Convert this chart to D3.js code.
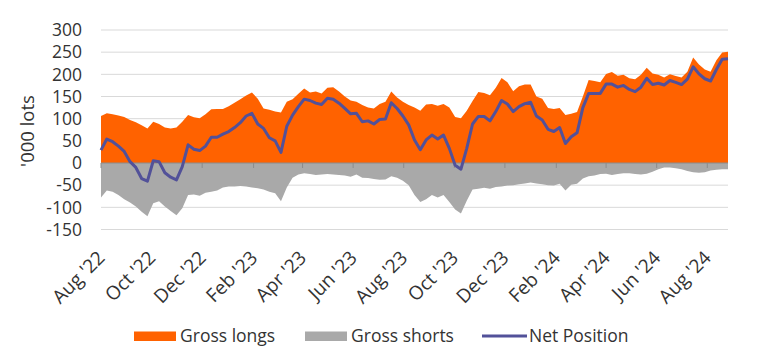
<!DOCTYPE html>
<html>
<head>
<meta charset="utf-8">
<script src="https://cdn.jsdelivr.net/npm/d3@7"></script>
<style>
  html, body { margin: 0; padding: 0; background: #fff; }
  svg { display: block; }
  text { font-family: "Open Sans", sans-serif; fill: #333; }
</style>
</head>
<body>
<svg id="chart" width="777" height="361"></svg>
<script>
// Weekly data, first report 2 Aug 2022
const startDate = new Date(2022, 7, 2);

const grossLongs = [
  106,112,110,107,104,97,92,85,78,93,88,80,78,80,93,108,103,101,110,121,
  122,122,128,136,144,152,159,145,123,120,116,114,138,144,156,168,159,161,157,170,
  171,161,150,141,138,131,125,123,133,138,161,148,138,131,125,118,132,133,129,133,
  125,104,101,118,140,160,158,153,170,192,182,162,173,177,177,150,145,124,122,124,
  108,111,115,150,187,185,182,201,205,197,199,191,189,199,215,202,199,193,200,196,
  193,206,238,222,211,206,232,249,251
];

const grossShorts = [
  -78,-62,-65,-72,-82,-89,-98,-110,-120,-91,-86,-98,-108,-118,-102,-72,-71,-74,-67,-65,
  -62,-55,-53,-53,-52,-53,-55,-57,-60,-65,-68,-86,-55,-33,-26,-23,-25,-27,-26,-25,
  -26,-27,-28,-31,-26,-33,-34,-36,-38,-37,-30,-33,-40,-50,-72,-88,-82,-72,-78,-72,
  -88,-105,-114,-85,-60,-58,-56,-58,-54,-53,-51,-50,-48,-46,-44,-46,-48,-50,-51,-47,
  -62,-49,-47,-35,-30,-28,-25,-24,-27,-25,-23,-23,-25,-26,-24,-20,-14,-10,-10,-12,
  -14,-18,-21,-22,-21,-17,-15,-14,-14
];

const netPosition = [
  29,54,48,38,26,3,-10,-35,-41,5,3,-22,-32,-38,-8,41,31,28,38,58,
  58,65,71,80,91,106,112,88,78,57,50,24,83,108,127,144,141,135,132,146,
  144,135,123,111,112,93,95,88,98,99,136,123,106,86,52,30,52,63,54,63,
  33,-5,-14,33,88,105,105,95,116,141,133,116,127,134,137,106,97,76,71,80,
  44,59,68,125,157,157,157,178,178,171,175,166,161,171,191,177,180,176,186,182,
  177,189,217,201,190,185,211,234,235
];

const tickLabels = ["Aug '22","Oct '22","Dec '22","Feb '23","Apr '23","Jun '23","Aug '23",
                    "Oct '23","Dec '23","Feb '24","Apr '24","Jun '24","Aug '24"];
const yTicks = [-150,-100,-50,0,50,100,150,200,250,300];
const legendItems = ["Gross longs","Gross shorts","Net Position"];

const COLORS = { longs: "#ff6200", shorts: "#a9a9a9", net: "#525199" };

const dates = grossLongs.map((_, i) => d3.timeDay.offset(startDate, 7 * i));
const tickDates = tickLabels.map((_, k) => new Date(2022, 7 + 2 * k, 2));

const svg = d3.select("#chart");
const x = d3.scaleTime().domain([dates[0], dates[dates.length - 1]]).range([101, 728]);
const y = d3.scaleLinear().domain([-150, 300]).range([229.5, 30]);

// gridlines
svg.append("g").selectAll("line").data(yTicks.filter(v => v !== 0)).join("line")
  .attr("x1", 101).attr("x2", 728)
  .attr("y1", d => y(d)).attr("y2", d => y(d))
  .attr("stroke", "#d9d9d9").attr("stroke-width", 1);

// y labels
svg.append("g").selectAll("text").data(yTicks).join("text")
  .attr("x", 82).attr("y", d => y(d))
  .attr("dy", "0.36em")
  .attr("text-anchor", "end")
  .style("font-size", "17.5px")
  .text(d => d);

// y title
svg.append("text")
  .attr("transform", `translate(34,131) rotate(-90)`)
  .attr("text-anchor", "middle")
  .style("font-size", "18.5px")
  .text("'000 lots");

const idx = d3.range(dates.length);

// areas
svg.append("path")
  .datum(idx)
  .attr("fill", COLORS.longs)
  .attr("d", d3.area().x(i => x(dates[i])).y0(y(0)).y1(i => y(grossLongs[i])));

svg.append("path")
  .datum(idx)
  .attr("fill", COLORS.shorts)
  .attr("d", d3.area().x(i => x(dates[i])).y0(y(0)).y1(i => y(grossShorts[i])));

// zero axis + ticks
svg.append("line")
  .attr("x1", 101).attr("x2", 728).attr("y1", y(0)).attr("y2", y(0))
  .attr("stroke", "#8c8c8c").attr("stroke-width", 1);

svg.append("g").selectAll("line").data(tickDates).join("line")
  .attr("x1", d => x(d)).attr("x2", d => x(d))
  .attr("y1", y(0)).attr("y2", y(0) + 5)
  .attr("stroke", "#8c8c8c").attr("stroke-width", 1);

// net line
svg.append("path")
  .datum(idx)
  .attr("fill", "none")
  .attr("stroke", COLORS.net)
  .attr("stroke-width", 3)
  .attr("stroke-linejoin", "round")
  .attr("d", d3.line().x(i => x(dates[i])).y(i => y(netPosition[i])));

// x labels
svg.append("g").selectAll("text").data(tickDates).join("text")
  .attr("transform", (d) => `translate(${x(d) + 5},259) rotate(-45)`)
  .attr("text-anchor", "end")
  .style("font-size", "19px")
  .text((d, k) => tickLabels[k]);

// legend
const lg = svg.append("g");
const legendX = [134, 305, 482];
const legendColors = [COLORS.longs, COLORS.shorts, COLORS.net];
legendItems.forEach((name, k) => {
  if (k < 2) {
    lg.append("rect").attr("x", legendX[k]).attr("y", 331.5).attr("width", 42).attr("height", 9.5)
      .attr("fill", legendColors[k]);
  } else {
    lg.append("line").attr("x1", legendX[k]).attr("x2", legendX[k] + 45)
      .attr("y1", 336).attr("y2", 336)
      .attr("stroke", legendColors[k]).attr("stroke-width", 3);
  }
  lg.append("text")
    .attr("x", legendX[k] + (k < 2 ? 46 : 47)).attr("y", 342)
    .style("font-size", "17.5px")
    .text(name);
});
</script>
</body>
</html>
